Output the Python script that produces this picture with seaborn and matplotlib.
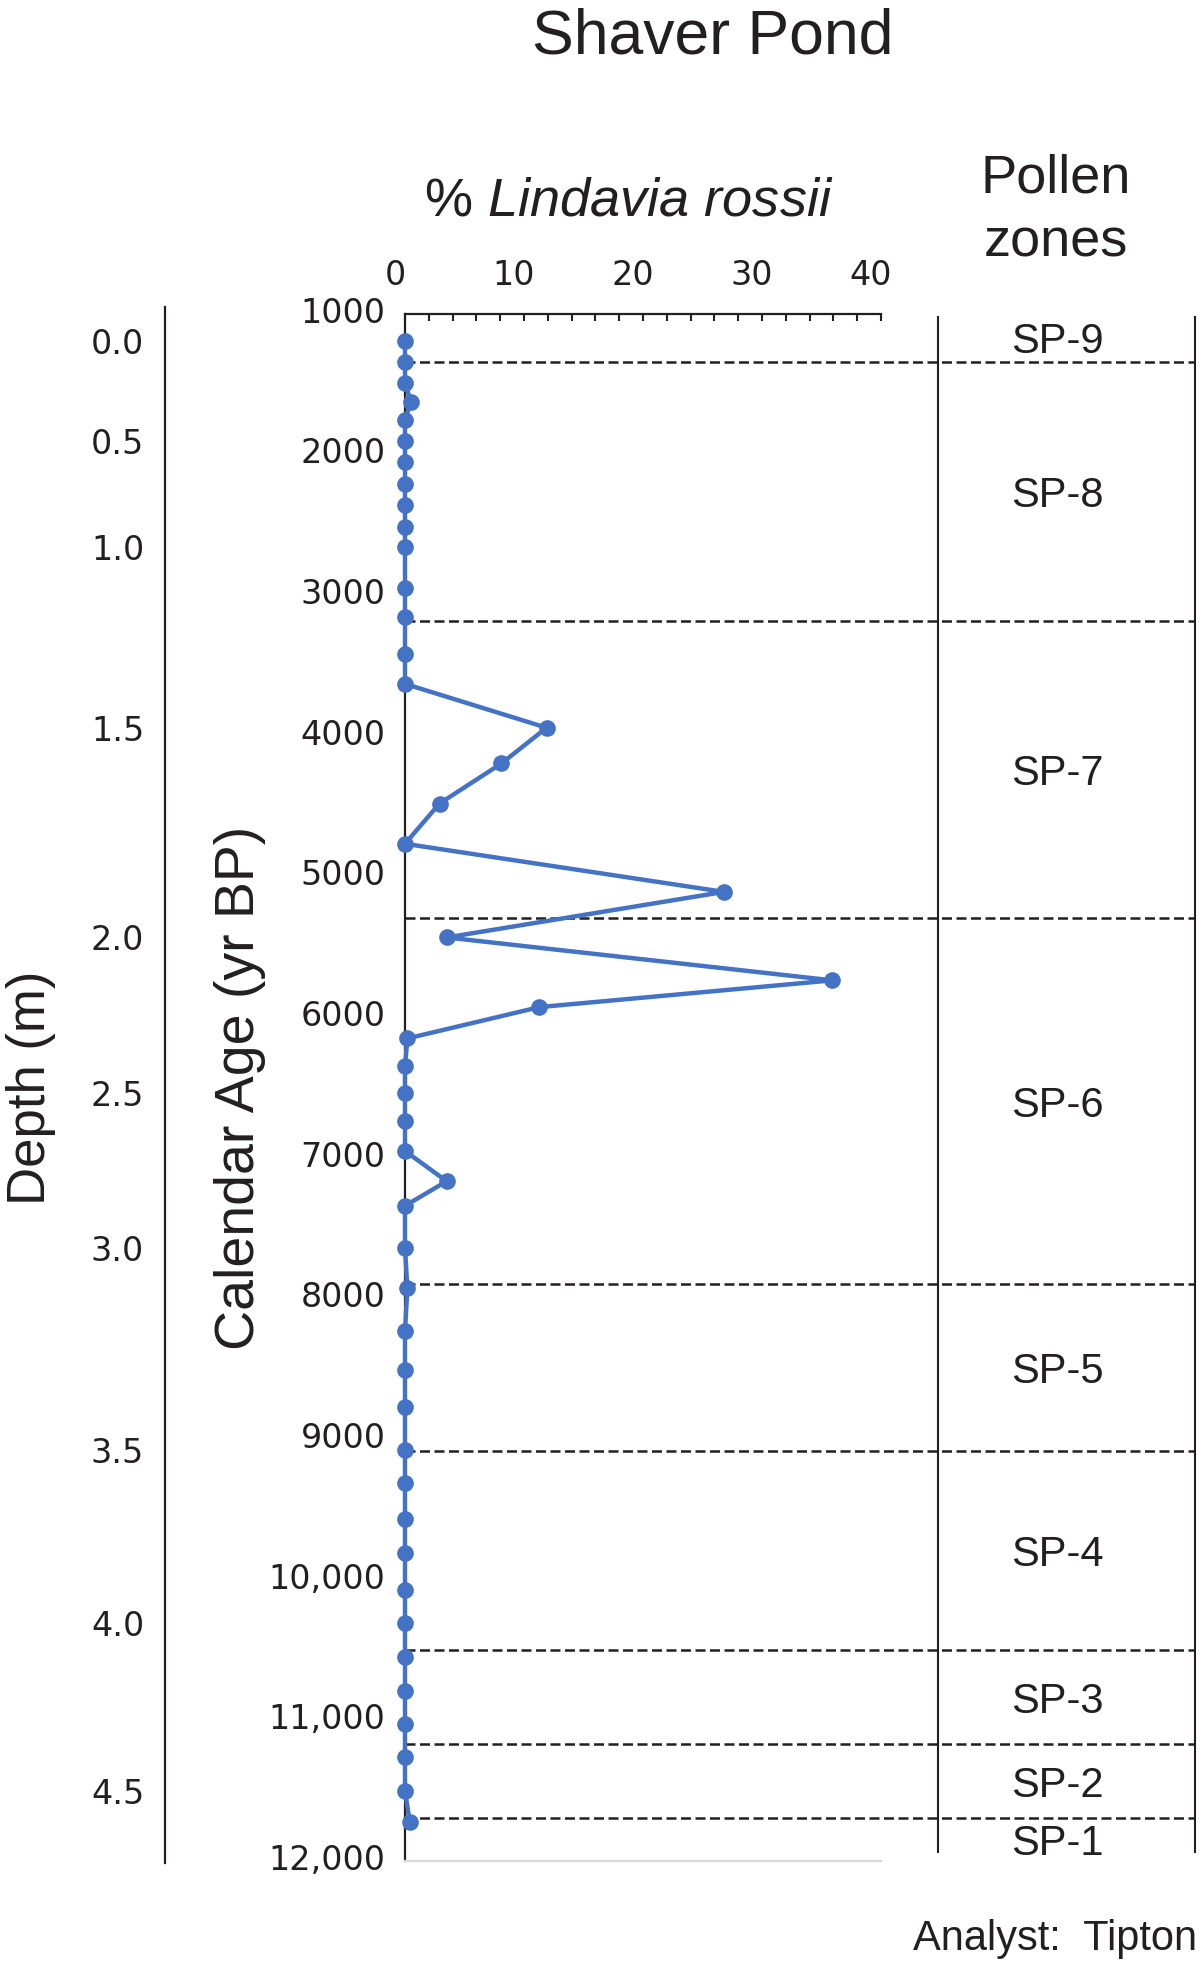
import numpy as np
import pandas as pd
import matplotlib.pyplot as plt
import seaborn as sns
from matplotlib.ticker import MultipleLocator
from matplotlib.transforms import ScaledTranslation

sns.set_style("white")
plt.rcParams['font.family'] = ['Liberation Sans', 'DejaVu Sans']
plt.rcParams['mathtext.fontset'] = 'custom'
plt.rcParams['mathtext.rm'] = 'Liberation Sans'
plt.rcParams['mathtext.it'] = 'Liberation Sans:italic'

# samples, every 0.1 m down the core
depth_m = [0.0, 0.1, 0.2, 0.3, 0.4, 0.5, 0.6, 0.7, 0.8, 0.9,
           1.0, 1.1, 1.2, 1.3, 1.4, 1.5, 1.6, 1.7, 1.8, 1.9,
           2.0, 2.1, 2.2, 2.3, 2.4, 2.5, 2.6, 2.7, 2.8, 2.9,
           3.0, 3.1, 3.2, 3.3, 3.4, 3.5, 3.6, 3.7, 3.8, 3.9,
           4.0, 4.1, 4.2, 4.3, 4.4, 4.5, 4.6]
age_bp = [1190, 1340, 1492, 1626, 1752, 1905, 2054, 2207, 2362, 2514,
          2657, 2949, 3159, 3419, 3631, 3943, 4197, 4482, 4768, 5110,
          5434, 5739, 5929, 6152, 6349, 6542, 6736, 6952, 7167, 7342,
          7644, 7929, 8231, 8510, 8770, 9078, 9310, 9570, 9811, 10072,
          10310, 10548, 10790, 11026, 11263, 11503, 11721]
pct_lindavia = [0.0, 0.0, 0.0, 0.5, 0.0, 0.0, 0.0, 0.0, 0.0, 0.0,
                0.0, 0.0, 0.0, 0.0, 0.0, 11.9, 8.1, 2.9, 0.0, 26.8,
                3.5, 35.9, 11.3, 0.2, 0.0, 0.0, 0.0, 0.0, 3.5, 0.0,
                0.0, 0.2, 0.0, 0.0, 0.0, 0.0, 0.0, 0.0, 0.0, 0.0,
                0.0, 0.0, 0.0, 0.0, 0.0, 0.0, 0.4]

# pollen zone boundaries (yr BP), top to bottom
zone_bounds = [1340, 3181, 5297, 7897, 9088, 10500, 11171, 11693]
zone_names = ['SP-9', 'SP-8', 'SP-7', 'SP-6', 'SP-5', 'SP-4', 'SP-3', 'SP-2', 'SP-1']

age_ticks = [1000, 2000, 3000, 4000, 5000, 6000, 7000, 8000, 9000, 10000, 11000, 12000]
age_tick_labels = ['1000', '2000', '3000', '4000', '5000', '6000', '7000', '8000',
                   '9000', '10,000', '11,000', '12,000']

BLUE = '#4472C4'
INK = '#231F20'
W, H = 1200, 1964

def px_rect(x0, y0, x1, y1):
    return [x0 / W, 1 - y1 / H, (x1 - x0) / W, (y1 - y0) / H]

fig = plt.figure(figsize=(W / 100, H / 100), dpi=100)

# main plot, age axis runs 1000 (top) .. 12000 (bottom)
top_px, bot_px = 313.8, 1861
yr_per_px = 11000 / (bot_px - top_px)
ax = fig.add_axes(px_rect(405, top_px, 881, bot_px))
ax.set_facecolor('none')

df = pd.DataFrame({'depth': depth_m, 'age': age_bp, 'pct': pct_lindavia})
sns.lineplot(data=df, x='pct', y='age', sort=False, estimator=None, ax=ax,
             color=BLUE, lw=3.2, marker='o', markersize=12, markeredgewidth=0,
             clip_on=False, zorder=5)

ax.set_xlim(0, 40)
ax.set_ylim(12000, 1000)
ax.xaxis.tick_top()
ax.xaxis.set_major_locator(MultipleLocator(10))
ax.xaxis.set_minor_locator(MultipleLocator(2))
ax.set_yticks(age_ticks, labels=age_tick_labels)
ax.yaxis.set_minor_locator(MultipleLocator(200))
ax.tick_params(which='both', direction='in', color=INK, width=1.5, length=5,
               labelcolor=INK, labelsize=24, labelfontfamily='DejaVu Sans')
ax.tick_params(axis='x', pad=16)
ax.tick_params(axis='y', pad=14)
for s in ['left', 'top']:
    ax.spines[s].set_color(INK)
    ax.spines[s].set_linewidth(1.6)
ax.spines['right'].set_visible(False)
ax.spines['bottom'].set_color('#D9D9D9')
ax.spines['bottom'].set_linewidth(1.6)

for lab in ax.get_xticklabels():
    lab.set_transform(lab.get_transform() + ScaledTranslation(-0.1, 0, fig.dpi_scale_trans))
for lab in ax.get_yticklabels():
    lab.set_transform(lab.get_transform() + ScaledTranslation(0, 0.04, fig.dpi_scale_trans))

ax.set_xlabel(r'% $\mathit{Lindavia\ rossii}$', fontsize=39, color=INK)
ax.xaxis.set_label_position('top')
ax.xaxis.set_label_coords((629 - 405) / 476, 1 + (top_px - 215) / (bot_px - top_px))
ax.xaxis.label.set_va('baseline')

ax.set_ylabel('Calendar Age (yr BP)', fontsize=40, color=INK)
ax.yaxis.set_label_coords((266 - 405) / 476, (bot_px - 1088) / (bot_px - top_px))

# zone boundaries, running across into the zone column
dash_end = (1195 - 405) / 476
for b in zone_bounds:
    ax.axhline(b, xmin=0, xmax=dash_end, color=INK, lw=1.8, dashes=(4, 1.8),
               clip_on=False, zorder=3)

# depth axis (placed on the same age scale)
d_top, d_bot = 307, 1863
axd = fig.add_axes(px_rect(165, d_top, 175, d_bot))
axd.set_facecolor('none')
axd.set_ylim(12000 + (d_bot - bot_px) * yr_per_px, 1000 - (top_px - d_top) * yr_per_px)
axd.set_yticks(age_bp[::5], labels=[f'{d:.1f}' for d in depth_m[::5]])
axd.set_xticks([])
axd.tick_params(axis='y', direction='out', length=6, width=1.5, color=INK,
                labelcolor=INK, labelsize=24, pad=9, labelfontfamily='DejaVu Sans')
for s in ['right', 'top', 'bottom']:
    axd.spines[s].set_visible(False)
axd.spines['left'].set_color(INK)
axd.spines['left'].set_linewidth(1.6)
axd.set_ylabel('Depth (m)', fontsize=38, color=INK)
axd.yaxis.set_label_coords(56 / W, 1 - 1088 / H, transform=fig.transFigure)

# pollen zone column
axz = fig.add_axes(px_rect(938, top_px, 1195, bot_px))
axz.set_facecolor('none')
axz.set_xlim(0, 1)
axz.set_ylim(12000, 1000)
axz.set_xticks([])
axz.set_yticks([])
for s in ['top', 'bottom']:
    axz.spines[s].set_visible(False)
for s in ['left', 'right']:
    axz.spines[s].set_color(INK)
    axz.spines[s].set_linewidth(1.5)
    axz.spines[s].set_bounds(1000 + (317 - top_px) * yr_per_px, 1000 + (1852 - top_px) * yr_per_px)

edges = [1000] + zone_bounds + [12000]
for name, a, b in zip(zone_names, edges[:-1], edges[1:]):
    axz.text(0.463, (a + b) / 2, name, ha='center', va='center_baseline',
             fontsize=30, color=INK)

fig.text(1056 / W, 1 - 192.7 / H, 'Pollen', ha='center', va='baseline', fontsize=39, color=INK)
fig.text(1056 / W, 1 - 256.7 / H, 'zones', ha='center', va='baseline', fontsize=39, color=INK)

fig.suptitle('Shaver Pond', x=713 / W, y=1 - 54 / H, ha='center', va='baseline',
             fontsize=45, color=INK)
fig.text(1197 / W, 1 - 1950 / H, 'Analyst:  Tipton', ha='right', va='baseline',
         fontsize=30, color=INK)

fig.savefig('out.png', dpi=100)
